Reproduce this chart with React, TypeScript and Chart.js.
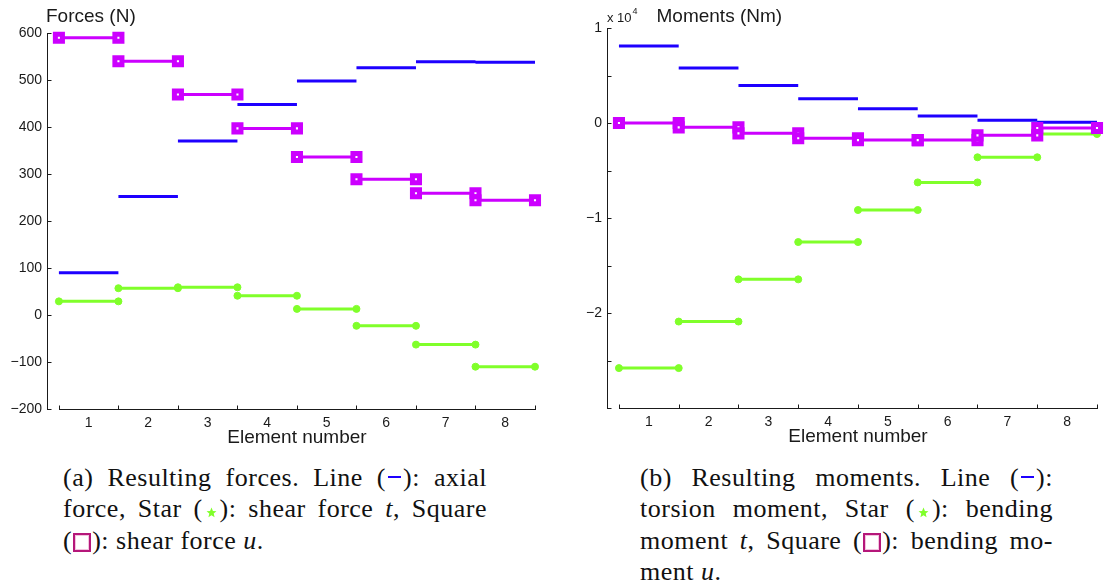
import React, { useEffect, useRef } from "react";
import { Chart, registerables } from "chart.js";

Chart.register(...registerables);

// ---------- data ----------
const elements = [1, 2, 3, 4, 5, 6, 7, 8];

// Forces (N)
const axialForce = [90, 252, 370, 448, 498, 526, 539, 538];
const shearForceT = [29, 57, 59, 41, 13, -23, -63, -110];
const shearForceU = [590, 540, 469, 397, 336, 289, 259, 244];
const forceTicks = [-200, -100, 0, 100, 200, 300, 400, 500, 600];

// Moments (x 10^4 Nm)
const torsionMoment = [0.81, 0.579, 0.396, 0.256, 0.151, 0.074, 0.028, 0.007];
const bendingMomentT = [-2.58, -2.09, -1.646, -1.253, -0.916, -0.625, -0.361, -0.116];
const bendingMomentU = [0, -0.046, -0.109, -0.16, -0.18, -0.18, -0.13, -0.053];
const momentTicks = [-3, -2.5, -2, -1.5, -1, -0.5, 0, 0.5, 1];
const momentTickLabels = [-2, -1, 0, 1];

// ---------- style ----------
const BLUE = "#1e00ff";
const MAGENTA = "#cc00ff";
const GREEN = "#80ff2a";
const INK = "#1a1a1a";
const SANS = '"Liberation Sans", Arial, sans-serif';

function steps(values: number[]) {
  const pts: { x: number; y: number | null }[] = [];
  elements.forEach((e, i) => {
    pts.push({ x: e - 0.5, y: values[i] });
    pts.push({ x: e + 0.5, y: values[i] });
    pts.push({ x: e + 0.5, y: null });
  });
  return pts;
}

const fmt = (v: number) => String(v).replace("-", "\u2212");

type PanelProps = {
  width: number;
  height: number;
  padding: { left: number; right: number; top: number; bottom: number };
  yWidth: number;
  xHeight: number;
  yMin: number;
  yMax: number;
  yTicks: number[];
  yLabel: (v: number) => string;
  series: { data: number[]; kind: "line" | "square" | "dot" }[];
  drawTitle: (ctx: CanvasRenderingContext2D, area: any) => void;
};

function makeAxesPlugin(drawTitle: PanelProps["drawTitle"], yTicks: number[]) {
  return {
    id: "matlabAxes",
    beforeDatasetsDraw(chart: any) {
      const { ctx, scales, chartArea } = chart;
      const x = scales.x;
      const y = scales.y;
      ctx.save();
      ctx.strokeStyle = INK;
      ctx.lineWidth = 1;
      const yb = Math.round(chartArea.bottom) + 0.5;
      const first = elements[0] - 0.5;
      const last = elements[elements.length - 1] + 0.5;
      ctx.beginPath();
      ctx.moveTo(Math.round(x.getPixelForValue(first)), yb);
      ctx.lineTo(Math.round(x.getPixelForValue(last)) + 1, yb);
      const bounds = [first, ...elements.map((e) => e + 0.5)];
      bounds.forEach((b) => {
        const px = Math.round(x.getPixelForValue(b)) + 0.5;
        ctx.moveTo(px, yb);
        ctx.lineTo(px, yb - 4);
      });
      const lx = Math.round(chartArea.left) + 0.5;
      yTicks.forEach((v) => {
        const py = Math.round(y.getPixelForValue(v)) + 0.5;
        ctx.moveTo(lx, py);
        ctx.lineTo(lx + 4, py);
      });
      ctx.stroke();
      ctx.restore();
    },
    afterDraw(chart: any) {
      const { ctx, scales, chartArea } = chart;
      const x = scales.x;
      ctx.save();
      ctx.fillStyle = INK;
      ctx.font = `19px ${SANS}`;
      ctx.textAlign = "center";
      ctx.textBaseline = "alphabetic";
      const cx =
        (x.getPixelForValue(elements[0] - 0.5) +
          x.getPixelForValue(elements[elements.length - 1] + 0.5)) /
        2;
      ctx.fillText("Element number", cx, chartArea.bottom + 34);
      drawTitle(ctx, chartArea);
      ctx.restore();
    },
  };
}

function Panel(p: PanelProps) {
  const ref = useRef<HTMLCanvasElement | null>(null);
  useEffect(() => {
    if (!ref.current) return;
    const datasets = p.series.map((s) => {
      const color = s.kind === "line" ? BLUE : s.kind === "square" ? MAGENTA : GREEN;
      return {
        data: steps(s.data),
        borderColor: color,
        backgroundColor: color,
        borderWidth: 3,
        pointRadius: s.kind === "line" ? 0 : s.kind === "square" ? 5 : 3.5,
        pointStyle: s.kind === "square" ? "rect" : "circle",
        pointBorderWidth: s.kind === "square" ? 5 : 1,
        pointBorderColor: color,
        pointBackgroundColor: s.kind === "square" ? "#ffffff" : color,
        spanGaps: false,
        clip: false as any,
        tension: 0,
      };
    });
    const chart = new Chart(ref.current, {
      type: "line",
      data: { datasets },
      options: {
        animation: false,
        responsive: false,
        maintainAspectRatio: false,
        layout: { padding: p.padding },
        plugins: { legend: { display: false }, tooltip: { enabled: false }, title: { display: false } },
        scales: {
          x: {
            type: "linear",
            min: 0.3,
            max: elements[elements.length - 1] + 0.5,
            grid: { display: false, drawTicks: false },
            border: { display: false },
            afterBuildTicks: (scale: any) => {
              scale.ticks = elements.map((v) => ({ value: v }));
            },
            afterFit: (scale: any) => {
              scale.height = p.xHeight;
            },
            ticks: {
              padding: 6,
              autoSkip: false,
              maxRotation: 0,
              color: INK,
              font: { family: SANS, size: 14 },
              callback: (v: any) => String(v),
            },
          },
          y: {
            type: "linear",
            min: p.yMin,
            max: p.yMax,
            grid: { display: false, drawTicks: false },
            border: { display: true, color: INK, width: 1 },
            afterBuildTicks: (scale: any) => {
              scale.ticks = p.yTicks.map((v) => ({ value: v }));
            },
            afterFit: (scale: any) => {
              scale.width = p.yWidth;
            },
            ticks: {
              padding: 5,
              autoSkip: false,
              color: INK,
              font: { family: SANS, size: 14 },
              callback: (v: any) => p.yLabel(Number(v)),
            },
          },
        },
      },
      plugins: [makeAxesPlugin(p.drawTitle, p.yTicks)],
    });
    return () => chart.destroy();
  }, []);
  return (
    <canvas
      ref={ref}
      width={p.width}
      height={p.height}
      style={{ width: p.width, height: p.height, display: "block" }}
    />
  );
}

const dash = (
  <span
    style={{
      display: "inline-block",
      width: 13,
      height: 2.5,
      background: BLUE,
      verticalAlign: "0.3em",
      margin: "0 2px",
    }}
  />
);
const star = (
  <svg
    width="11"
    height="11"
    viewBox="0 0 20 20"
    style={{ display: "inline-block", verticalAlign: "-1px", margin: "0 3px" }}
  >
    <polygon
      points="10,1 12.6,7.2 19,7.6 14,11.8 15.6,18.5 10,14.8 4.4,18.5 6,11.8 1,7.6 7.4,7.2"
      fill={GREEN}
    />
  </svg>
);
const square = (
  <span
    style={{
      display: "inline-block",
      width: 18,
      height: 19,
      boxSizing: "border-box",
      border: "2px solid #b5177a",
      boxShadow: "inset 0 0 0 1px #f3c2df",
      background: "#fff",
      verticalAlign: "-3px",
      margin: "0 1px",
    }}
  />
);

const lineStyle = (justify: boolean): React.CSSProperties => ({
  height: 31.3,
  lineHeight: "31.3px",
  whiteSpace: "nowrap",
  textAlign: justify ? "justify" : "left",
  textAlignLast: justify ? "justify" : "left",
  overflow: "visible",
});

const captionStyle = (left: number, width: number): React.CSSProperties => ({
  position: "absolute",
  left,
  top: 462,
  width,
  fontFamily: '"Liberation Serif", "Times New Roman", serif',
  fontSize: 26,
  letterSpacing: "0.5px",
  color: "#111",
});

export default function App() {
  return (
    <div style={{ position: "absolute", left: 0, top: 0, width: 1107, height: 586, background: "#fff" }}>
      <div style={{ position: "absolute", left: 0, top: 0 }}>
        <Panel
          width={555}
          height={450}
          padding={{ left: 0, right: 20, top: 33, bottom: 0 }}
          yWidth={47}
          xHeight={41}
          yMin={-200}
          yMax={600}
          yTicks={forceTicks}
          yLabel={(v) => fmt(v)}
          series={[
            { data: shearForceU, kind: "square" },
            { data: shearForceT, kind: "dot" },
            { data: axialForce, kind: "line" },
          ]}
          drawTitle={(ctx, area) => {
            ctx.textAlign = "left";
            ctx.font = `19px ${SANS}`;
            ctx.fillText("Forces (N)", area.left - 1, 22);
          }}
        />
      </div>
      <div style={{ position: "absolute", left: 555, top: 0 }}>
        <Panel
          width={552}
          height={450}
          padding={{ left: 0, right: 7, top: 28, bottom: 0 }}
          yWidth={52}
          xHeight={42}
          yMin={-3}
          yMax={1}
          yTicks={momentTicks}
          yLabel={(v) => (momentTickLabels.includes(v) ? fmt(v) : "")}
          series={[
            { data: bendingMomentU, kind: "square" },
            { data: bendingMomentT, kind: "dot" },
            { data: torsionMoment, kind: "line" },
          ]}
          drawTitle={(ctx, area) => {
            ctx.textAlign = "left";
            ctx.font = `13px ${SANS}`;
            ctx.fillText("x 10", area.left, 21.5);
            const w = ctx.measureText("x 10").width;
            ctx.font = `9px ${SANS}`;
            ctx.fillText("4", area.left + w + 1, 14);
            ctx.font = `19px ${SANS}`;
            ctx.fillText("Moments (Nm)", area.left + 49.5, 22);
          }}
        />
      </div>
      <div style={captionStyle(63, 424)}>
        <div style={lineStyle(true)}>
          (a) Resulting forces. Line ({dash}): axial
        </div>
        <div style={lineStyle(true)}>
          force, Star ({star}): shear force <i>t</i>, Square
        </div>
        <div style={lineStyle(false)}>
          ({square}): shear force <i>u</i>.
        </div>
      </div>
      <div style={captionStyle(640, 413)}>
        <div style={lineStyle(true)}>
          (b) Resulting moments. Line ({dash}):
        </div>
        <div style={lineStyle(true)}>
          torsion moment, Star ({star}): bending
        </div>
        <div style={lineStyle(true)}>
          moment <i>t</i>, Square ({square}): bending mo-
        </div>
        <div style={lineStyle(false)}>
          ment <i>u</i>.
        </div>
      </div>
    </div>
  );
}
